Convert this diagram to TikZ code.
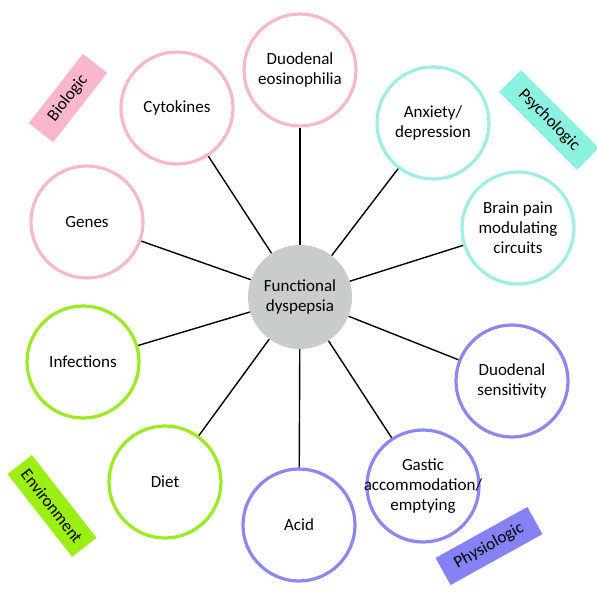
\documentclass[tikz,border=0pt]{standalone}
\usepackage{fontspec}
\setmainfont{Carlito}
\definecolor{pinkc}{HTML}{F8B8CC}
\definecolor{pinkb}{HTML}{FAB6CE}
\definecolor{cyanc}{HTML}{9EEEE4}
\definecolor{cyanb}{HTML}{8CF2E0}
\definecolor{greenc}{HTML}{9BEA22}
\definecolor{greenb}{HTML}{9BEF14}
\definecolor{purpc}{HTML}{8A88EE}
\definecolor{purpb}{HTML}{8482F4}
\definecolor{hubc}{HTML}{C8CCCB}
\begin{document}
\begin{tikzpicture}[x=1pt,y=-1pt,
  txt/.style={font=\fontsize{17}{20}\selectfont,align=center,text=black},
  outer/.style={txt,circle,draw=#1,line width=3.2pt,fill=white,minimum size=112pt,inner sep=-20pt},
  hub/.style={txt,circle,fill=hubc,minimum size=104pt,inner sep=0pt},
  tag/.style={txt,fill=#1,minimum width=90pt,minimum height=31pt,inner sep=0pt},
  link/.style={line width=1.4pt,black}]
\useasboundingbox (0,0) rectangle (597,600);
\node[hub] (c) at (300,297) {Functional\\dyspepsia};
\node[outer=pinkc] (de) at (300,70) {Duodenal\\eosinophilia};
\node[outer=pinkc] (cy) at (177,108) {Cytokines};
\node[outer=pinkc] (ge) at (87,222) {Genes};
\node[outer=cyanc] (an) at (433,123) {Anxiety/\\depression};
\node[outer=cyanc] (br) at (518,228) {Brain pain\\modulating\\circuits};
\node[outer=greenc] (in) at (83,362) {Infections};
\node[outer=greenc] (di) at (165,482) {Diet};
\node[outer=purpc] (ds) at (512,381) {Duodenal\\sensitivity};
\node[outer=purpc] (ga) at (423,486) {Gastic\\accommodation/\\emptying};
\node[outer=purpc] (ac) at (299,525) {Acid};
\foreach \n in {de,cy,ge,an,br,in,di,ds,ga,ac} \draw[link] (c) -- (\n);
\node[tag=pinkb,rotate=52,minimum width=88pt] (t1) at (68,98) {Biologic};
\node[tag=cyanb,rotate=-45,minimum width=110pt] (t2) at (549,120) {Psychologic};
\node[tag=greenb,rotate=-52,minimum width=105pt] (t3) at (52,506) {Environment};
\node[tag=purpb,rotate=29,minimum width=105pt] (t4) at (489,546) {Physiologic};
\end{tikzpicture}
\end{document}
